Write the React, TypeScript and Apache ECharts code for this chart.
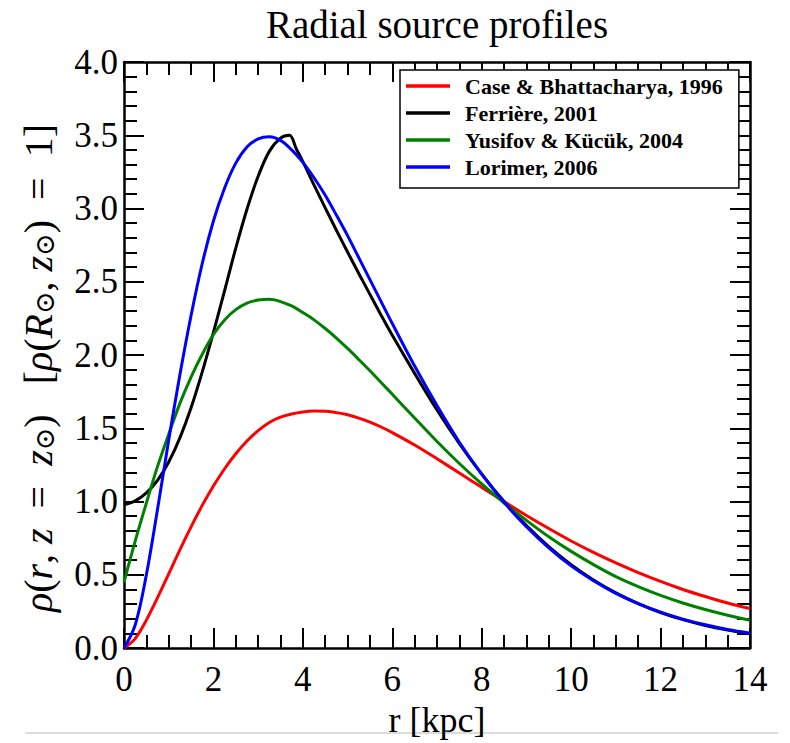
import React, { useEffect, useRef } from "react";
import * as echarts from "echarts";

const FONT = '"Liberation Serif", "DejaVu Serif", serif';

// Galactocentric radius grid (kpc) shared by three of the profiles
const radius = [
  0, 0.25, 0.5, 0.75, 1, 1.25, 1.5, 1.75, 2, 2.25, 2.5, 2.75, 3, 3.25, 3.5,
  3.75, 4, 4.25, 4.5, 4.75, 5, 5.25, 5.5, 5.75, 6, 6.5, 7, 7.5, 8, 8.5, 9, 9.5,
  10, 10.5, 11, 11.5, 12, 12.5, 13, 13.5, 14,
];

const caseBhattacharya = [
  0, 0.065, 0.191, 0.344, 0.507, 0.671, 0.827, 0.974, 1.106, 1.224, 1.326,
  1.413, 1.484, 1.54, 1.576, 1.598, 1.612, 1.618, 1.617, 1.607, 1.592, 1.57,
  1.542, 1.509, 1.471, 1.386, 1.292, 1.195, 1.097, 1.0, 0.905, 0.816, 0.731,
  0.653, 0.581, 0.515, 0.455, 0.4, 0.352, 0.308, 0.27,
];

const yusifovKucuk = [
  0.45, 0.73, 0.99, 1.24, 1.46, 1.67, 1.85, 2.005, 2.14, 2.24, 2.31, 2.355,
  2.375, 2.38, 2.365, 2.335, 2.29, 2.24, 2.181, 2.116, 2.045, 1.97, 1.893,
  1.813, 1.732, 1.57, 1.41, 1.26, 1.12, 0.99, 0.872, 0.76, 0.66, 0.57, 0.488,
  0.42, 0.36, 0.308, 0.263, 0.224, 0.19,
];

const lorimer = [
  0, 0.158, 0.5, 0.947, 1.42, 1.865, 2.27, 2.625, 2.915, 3.14, 3.31, 3.42,
  3.475, 3.49, 3.465, 3.4, 3.315, 3.21, 3.09, 2.955, 2.815, 2.665, 2.515, 2.365,
  2.215, 1.925, 1.655, 1.405, 1.187, 0.995, 0.828, 0.684, 0.561, 0.46, 0.374,
  0.304, 0.246, 0.198, 0.159, 0.127, 0.102,
];

// Ferrière profile breaks sharply near 3.7 kpc, so it gets its own grid
const ferriereRadius = [
  0, 0.25, 0.5, 0.75, 1, 1.25, 1.5, 1.75, 2, 2.25, 2.5, 2.75, 3, 3.25, 3.5,
  3.7, 3.85, 4, 4.25, 4.5, 4.75, 5, 5.25, 5.5, 5.75, 6, 6.5, 7, 7.5, 8, 8.5, 9,
  9.5, 10, 10.5, 11, 11.5, 12, 12.5, 13, 13.5, 14,
];
const ferriere = [
  0.98, 1.005, 1.06, 1.145, 1.27, 1.435, 1.64, 1.885, 2.155, 2.44, 2.73, 2.995,
  3.22, 3.39, 3.48, 3.5, 3.41, 3.32, 3.16, 3.005, 2.852, 2.703, 2.557, 2.414,
  2.272, 2.135, 1.875, 1.625, 1.395, 1.187, 1.0, 0.836, 0.693, 0.57, 0.465,
  0.377, 0.304, 0.243, 0.194, 0.154, 0.123, 0.098,
];

const xTicks = [0, 2, 4, 6, 8, 10, 12, 14];
const yTicks = [0, 0.5, 1, 1.5, 2, 2.5, 3, 3.5, 4];

const names = [
  "Case & Bhattacharya, 1996",
  "Ferrière, 2001",
  "Yusifov & Kücük, 2004",
  "Lorimer, 2006",
];
const colors = ["#ff0000", "#000000", "#008000", "#0000ff"];

const pairs = (xs: number[], ys: number[]) => xs.map((x, i) => [x, ys[i]]);

const axisBase = {
  axisLine: { show: true, onZero: false, lineStyle: { color: "#000", width: 2.5 } },
  axisTick: { show: true, inside: true, length: 20, lineStyle: { color: "#000", width: 2 } },
  splitLine: { show: false },
  minorSplitLine: { show: false },
};

export default function App() {
  const ref = useRef<HTMLDivElement>(null);

  useEffect(() => {
    const chart = echarts.init(ref.current!, null, { renderer: "svg" });

    const xBase = {
      ...axisBase,
      type: "value",
      min: xTicks[0],
      max: xTicks[xTicks.length - 1],
      interval: xTicks[1] - xTicks[0],
      minorTick: { show: true, splitNumber: 4, length: 13, lineStyle: { color: "#000", width: 2 } },
    };
    const yBase = {
      ...axisBase,
      type: "value",
      min: yTicks[0],
      max: yTicks[yTicks.length - 1],
      interval: yTicks[1] - yTicks[0],
      minorTick: { show: true, splitNumber: 5, length: 13, lineStyle: { color: "#000", width: 2 } },
    };

    const data = [
      pairs(radius, caseBhattacharya),
      pairs(ferriereRadius, ferriere),
      pairs(radius, yusifovKucuk),
      pairs(radius, lorimer),
    ];

    chart.setOption({
      animation: false,
      backgroundColor: "#fff",
      grid: { left: 124, right: 40, top: 62, bottom: 78 },
      xAxis: [
        {
          ...xBase,
          position: "bottom",
          axisLabel: { color: "#000", fontFamily: FONT, fontSize: 35, margin: 14 },
          name: "r [kpc]",
          nameLocation: "middle",
          nameGap: 52,
          nameTextStyle: { color: "#000", fontFamily: FONT, fontSize: 36 },
        },
        { ...xBase, position: "top", axisLabel: { show: false } },
      ],
      yAxis: [
        {
          ...yBase,
          position: "left",
          axisLabel: {
            color: "#000",
            fontFamily: FONT,
            fontSize: 35,
            margin: 6,
            formatter: (v: number) => v.toFixed(1),
          },
          name:
            "{i|ρ}{n|(}{i|r}{n|, }{i|z}{n|  =  }{i|z}{s|⊙}{n|)   [}{i|ρ}{n|(}{i|R}{s|⊙}{n|, }{i|z}{s|⊙}{n|)  =  1]}",
          nameLocation: "middle",
          nameRotate: 90,
          nameGap: 66,
          nameTextStyle: {
            color: "#000",
            fontFamily: FONT,
            fontSize: 40,
            padding: [0, 26, 0, 0],
            rich: {
              i: { fontFamily: FONT, fontSize: 40, fontStyle: "italic", verticalAlign: "bottom", color: "#000" },
              n: { fontFamily: FONT, fontSize: 40, verticalAlign: "bottom", color: "#000" },
              s: { fontFamily: FONT, fontSize: 27, verticalAlign: "bottom", color: "#000" },
            },
          },
        },
        { ...yBase, position: "right", axisLabel: { show: false } },
      ],
      legend: {
        orient: "vertical",
        left: 400,
        top: 70,
        padding: [5, 16, 10, 6],
        itemGap: 5,
        itemWidth: 44,
        itemHeight: 3.5,
        icon: "rect",
        backgroundColor: "#fff",
        borderColor: "#000",
        borderWidth: 1.5,
        borderRadius: 0,
        textStyle: {
          color: "#000",
          fontFamily: FONT,
          fontWeight: "bold",
          fontSize: 22,
          lineHeight: 22,
          padding: [0, 0, 0, 10],
        },
        data: names,
      },
      graphic: [
        {
          type: "text",
          x: 437,
          y: 24,
          style: {
            text: "Radial source profiles",
            fill: "#000",
            font: `39px ${FONT}`,
            align: "center",
            verticalAlign: "middle",
          },
        },
        {
          type: "line",
          shape: { x1: 25, y1: 733, x2: 778, y2: 733 },
          style: { stroke: "#d0d0d0", lineWidth: 1.5 },
        },
      ],
      series: names.map((name, i) => ({
        name,
        type: "line",
        xAxisIndex: 0,
        yAxisIndex: 0,
        data: data[i],
        smooth: 0.35,
        symbol: "none",
        color: colors[i],
        lineStyle: { color: colors[i], width: 3 },
      })),
    });

    return () => chart.dispose();
  }, []);

  return (
    <div
      ref={ref}
      style={{ position: "absolute", left: 0, top: 0, width: 790, height: 743, background: "#fff" }}
    />
  );
}
